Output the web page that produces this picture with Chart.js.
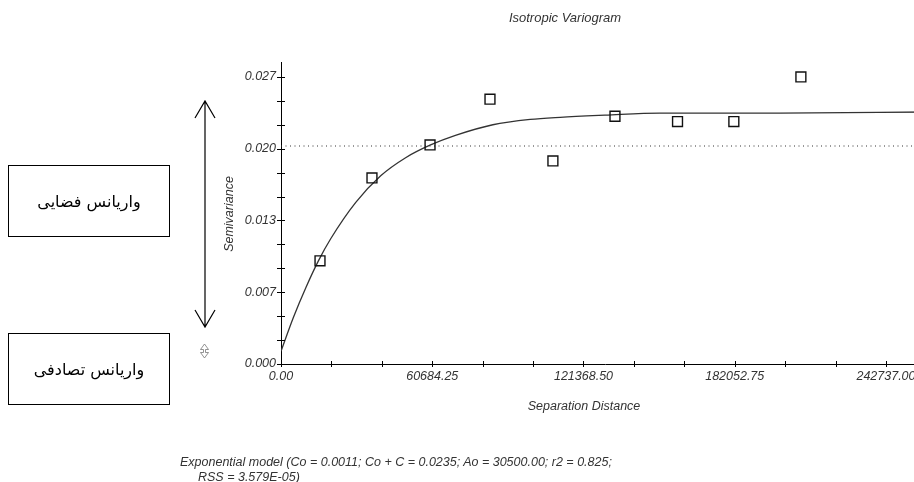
<!DOCTYPE html>
<html>
<head>
<meta charset="utf-8">
<script src="https://cdn.jsdelivr.net/npm/chart.js@4.4.1/dist/chart.umd.min.js"></script>
<style>
  html, body { margin: 0; padding: 0; background: #fff; overflow: hidden; }
  #wrap { position: relative; width: 960px; height: 482px; }
  .caja {
    position: absolute; left: 8px; width: 162px; height: 72px;
    border: 1.5px solid #000; box-sizing: border-box;
    display: flex; align-items: center; justify-content: center;
    font-family: "DejaVu Sans", sans-serif; font-size: 16px; direction: rtl; color: #000;
  }
  .nota {
    position: absolute; font-family: "Liberation Sans", Arial, sans-serif;
    font-style: italic; font-size: 12.5px; color: #333; white-space: nowrap;
  }
</style>
</head>
<body>
<div id="wrap">
  <canvas id="grafico" width="960" height="482"></canvas>
  <div class="caja" style="top:165px;">واریانس فضایی</div>
  <div class="caja" style="top:333px;">واریانس تصادفی</div>
  <div class="nota" style="left:180px; top:455px;">Exponential model (Co = 0.0011; Co + C = 0.0235; Ao = 30500.00; r2 = 0.825;</div>
  <div class="nota" style="left:198px; top:470px;">RSS = 3.579E-05)</div>
</div>
<script>
// puntos del variograma experimental
const distancias = [15650, 36500, 59800, 83850, 109100, 134000, 159100, 181700, 208600];
const semivarianzas = [0.0097, 0.0175, 0.0206, 0.0249, 0.0191, 0.0233, 0.0228, 0.0228, 0.0270];

// curva del modelo
const modeloX = [0, 5000, 10000, 15000, 20000, 30000, 40000, 50000, 60000, 70000, 85000, 100000, 112000, 130000, 152000, 200000, 260000];
const modeloY = [0.0012, 0.0044, 0.0072, 0.0097, 0.0118, 0.0152, 0.0177, 0.0194, 0.0206, 0.0215, 0.0225, 0.0230, 0.0232, 0.0234, 0.0236, 0.0236, 0.0237];

const varianzaMuestral = 0.0205;

const ticksX = ['0.00', '60684.25', '121368.50', '182052.75', '242737.00'];
const ticksY = ['0.000', '0.007', '0.013', '0.020', '0.027'];
const pasoX = 60684.25;
const pasoY = 0.00675;

const fuente = { family: '"Liberation Sans", Arial, sans-serif', size: 12.5, style: 'italic' };

function construirTicks(scale, paso, n) {
  const t = [];
  for (let i = 0; i <= n * 3; i++) t.push({ value: i * paso / 3 });
  scale.ticks = t;
}

const marcas = {
  id: 'marcas',
  afterDraw(chart) {
    const ctx = chart.ctx;
    const x = chart.scales.x, y = chart.scales.y;
    ctx.save();
    ctx.strokeStyle = '#000';
    ctx.lineWidth = 1;
    ctx.beginPath();
    x.ticks.forEach(t => {
      const px = Math.round(x.getPixelForValue(t.value)) + 0.5;
      ctx.moveTo(px, y.bottom - 3);
      ctx.lineTo(px, y.bottom + 3);
    });
    y.ticks.forEach(t => {
      const py = Math.round(y.getPixelForValue(t.value)) + 0.5;
      ctx.moveTo(x.left - 4, py);
      ctx.lineTo(x.left + 4, py);
    });
    ctx.stroke();

    // textos
    ctx.fillStyle = '#333';
    ctx.textAlign = 'center';
    ctx.textBaseline = 'middle';
    ctx.font = 'italic 13px "Liberation Sans", Arial, sans-serif';
    ctx.fillText('Isotropic Variogram', 565, 18);
    ctx.font = 'italic 12.5px "Liberation Sans", Arial, sans-serif';
    ctx.fillText('Separation Distance', 584, 407);
    ctx.save();
    ctx.translate(230, 214);
    ctx.rotate(-Math.PI / 2);
    ctx.fillText('Semivariance', 0, 0);
    ctx.restore();

    // flecha grande
    ctx.strokeStyle = '#000';
    ctx.lineWidth = 1.2;
    ctx.beginPath();
    ctx.moveTo(205, 101); ctx.lineTo(205, 327);
    ctx.moveTo(195, 118); ctx.lineTo(205, 101); ctx.lineTo(215, 118);
    ctx.moveTo(195, 310); ctx.lineTo(205, 327); ctx.lineTo(215, 310);
    ctx.stroke();

    // flecha pequeña
    ctx.strokeStyle = '#777';
    ctx.lineWidth = 0.8;
    ctx.beginPath();
    ctx.moveTo(204.5, 344); ctx.lineTo(200.5, 349.5); ctx.lineTo(203.5, 349.5); ctx.lineTo(203.5, 352.5);
    ctx.lineTo(200.5, 352.5); ctx.lineTo(204.5, 358); ctx.lineTo(208.5, 352.5); ctx.lineTo(205.5, 352.5);
    ctx.lineTo(205.5, 349.5); ctx.lineTo(208.5, 349.5); ctx.closePath();
    ctx.stroke();
    ctx.restore();
  }
};

new Chart(document.getElementById('grafico'), {
  type: 'scatter',
  data: {
    datasets: [
      {
        label: 'Puntos',
        data: distancias.map((d, i) => ({ x: d, y: semivarianzas[i] })),
        pointStyle: 'rect',
        pointRadius: 7,
        pointBorderWidth: 1.4,
        pointBorderColor: '#111',
        pointBackgroundColor: 'rgba(255,255,255,0)',
        order: 0
      },
      {
        label: 'Modelo',
        type: 'line',
        data: modeloX.map((d, i) => ({ x: d, y: modeloY[i] })),
        borderColor: '#333',
        borderWidth: 1.3,
        pointRadius: 0,
        cubicInterpolationMode: 'monotone',
        fill: false,
        order: 1
      },
      {
        label: 'Varianza',
        type: 'line',
        data: [{ x: 0, y: varianzaMuestral }, { x: 260000, y: varianzaMuestral }],
        borderColor: '#333',
        borderWidth: 1,
        borderDash: [1, 3.5],
        pointRadius: 0,
        fill: false,
        order: 2
      }
    ]
  },
  options: {
    responsive: false,
    devicePixelRatio: 1,
    animation: false,
    layout: { padding: { left: 0, top: 62, right: 31, bottom: 0 } },
    plugins: { legend: { display: false }, tooltip: { enabled: false } },
    scales: {
      x: {
        type: 'linear',
        min: 0,
        max: 260000,
        afterBuildTicks: s => construirTicks(s, pasoX, 4),
        afterFit: s => { s.height = 118; },
        grid: { display: false, drawTicks: false },
        border: { display: true, color: '#000', width: 1 },
        ticks: {
          autoSkip: false,
          maxRotation: 0,
          padding: 5,
          color: '#333',
          font: fuente,
          callback: (v, i) => (i % 3 === 0 ? ticksX[i / 3] : '')
        }
      },
      y: {
        type: 'linear',
        min: 0,
        max: 0.0284,
        afterBuildTicks: s => construirTicks(s, pasoY, 4),
        afterFit: s => { s.width = 281; },
        grid: { display: false, drawTicks: false },
        border: { display: true, color: '#000', width: 1 },
        ticks: {
          autoSkip: false,
          padding: 5,
          color: '#333',
          font: fuente,
          callback: (v, i) => (i % 3 === 0 ? ticksY[i / 3] : '')
        }
      }
    }
  },
  plugins: [marcas]
});
</script>
</body>
</html>
